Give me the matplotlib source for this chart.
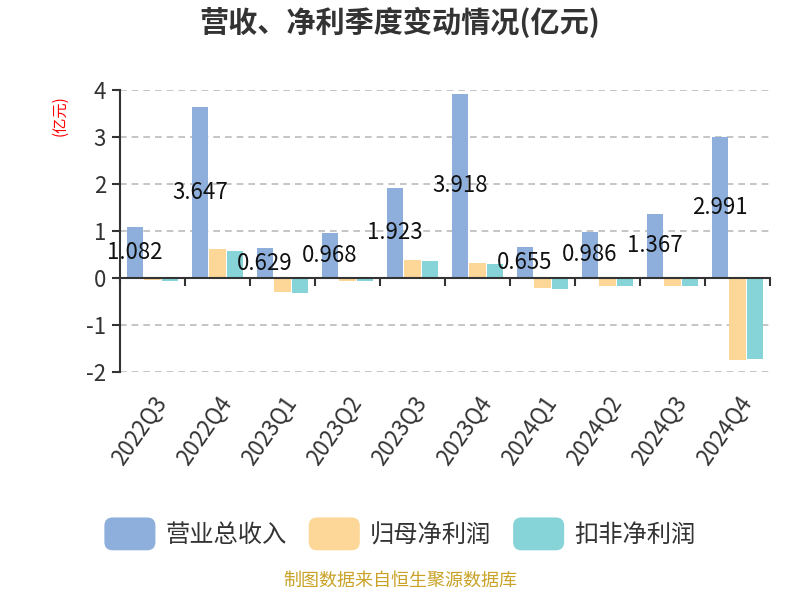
import matplotlib
matplotlib.use("Agg")
import matplotlib.pyplot as plt
import numpy as np
from matplotlib.patches import FancyBboxPatch, Patch
from matplotlib.legend_handler import HandlerPatch

plt.rcParams['font.family'] = ['Noto Sans CJK SC', 'DejaVu Sans']
plt.rcParams['axes.unicode_minus'] = False

categories = ['2022Q3', '2022Q4', '2023Q1', '2023Q2', '2023Q3', '2023Q4',
              '2024Q1', '2024Q2', '2024Q3', '2024Q4']
revenue = [1.082, 3.647, 0.629, 0.968, 1.923, 3.918, 0.655, 0.986, 1.367, 2.991]
net_profit = [-0.035, 0.607, -0.300, -0.057, 0.393, 0.314, -0.214, -0.164, -0.164, -1.740]
deducted_profit = [-0.055, 0.571, -0.314, -0.071, 0.357, 0.300, -0.228, -0.178, -0.178, -1.725]
series_names = ['营业总收入', '归母净利润', '扣非净利润']
colors = ['#8EAFDC', '#FDD797', '#86D4D8']
ymin, ymax = -2, 4

fig = plt.figure(figsize=(8, 6), dpi=100)
ax = fig.add_axes([0.15, 0.38, 0.8125, 0.47])

x = np.arange(len(categories))
w = 0.25
off = 0.27
ax.bar(x - off, revenue, w, color=colors[0], zorder=3)
ax.bar(x, net_profit, w, color=colors[1], zorder=3)
ax.bar(x + off, deducted_profit, w, color=colors[2], zorder=3)

for xi, v in zip(x, revenue):
    ax.text(xi - off, v / 2, f'{v:.3f}', ha='center', va='center', fontsize=16,
            color='#111111', zorder=5)

ax.set_xlim(-0.5, len(categories) - 0.5)
ax.set_ylim(ymin, ymax)
ax.set_yticks([-2, -1, 0, 1, 2, 3, 4])
ax.set_yticklabels(['-2', '-1', '0', '1', '2', '3', '4'], fontsize=16, color='#333333')
ax.yaxis.grid(True, linestyle=(0, (4, 3)), color='#BBBBBB', linewidth=1.2, zorder=0)
ax.set_axisbelow(True)
ax.tick_params(axis='y', length=6, width=1.5, color='#333333', pad=4)

ax.set_xticks(x)
ax.set_xticklabels(categories, rotation=55, ha='right', rotation_mode='anchor',
                   fontsize=16, color='#333333')
ax.tick_params(axis='x', which='major', length=0, pad=14)

for s in ['top', 'right', 'bottom']:
    ax.spines[s].set_visible(False)
ax.spines['left'].set_color('#333333')
ax.spines['left'].set_linewidth(1.5)

# zero axis line with boundary ticks
sec = ax.secondary_xaxis((0 - ymin) / (ymax - ymin))
sec.set_xticks(np.arange(-0.5, len(categories), 1))
sec.set_xticklabels([])
sec.tick_params(axis='x', length=6, width=1.5, color='#333333')
sec.spines['bottom'].set_color('#333333')
sec.spines['bottom'].set_linewidth(1.5)
sec.set_zorder(4)

fig.text(0.5, 0.962, '营收、净利季度变动情况(亿元)', ha='center', va='center',
         fontsize=21, fontweight='bold', color='#333333')
fig.text(0.075, 0.808, '(亿元)', rotation=90, ha='center', va='center',
         fontsize=11, color='red')
fig.text(0.5, 0.018, '制图数据来自恒生聚源数据库', ha='center', va='bottom',
         fontsize=13, color='#C9A227')


class RoundHandler(HandlerPatch):
    def create_artists(self, legend, orig_handle, xdescent, ydescent, width, height, fontsize, trans):
        p = FancyBboxPatch((-xdescent, -ydescent - 4), width, height + 8,
                           boxstyle='round,pad=0,rounding_size=6',
                           facecolor=orig_handle.get_facecolor(), edgecolor='none',
                           transform=trans)
        return [p]


handles = [Patch(facecolor=c) for c in colors]
fig.legend(handles, series_names, loc='center', bbox_to_anchor=(0.5, 0.108), ncol=3,
           frameon=False, fontsize=17.5, handlelength=2.1, handleheight=1.0,
           columnspacing=0.9, handletextpad=0.42,
           handler_map={Patch: RoundHandler()}, labelcolor='#333333')

fig.savefig('out.png', dpi=100)
